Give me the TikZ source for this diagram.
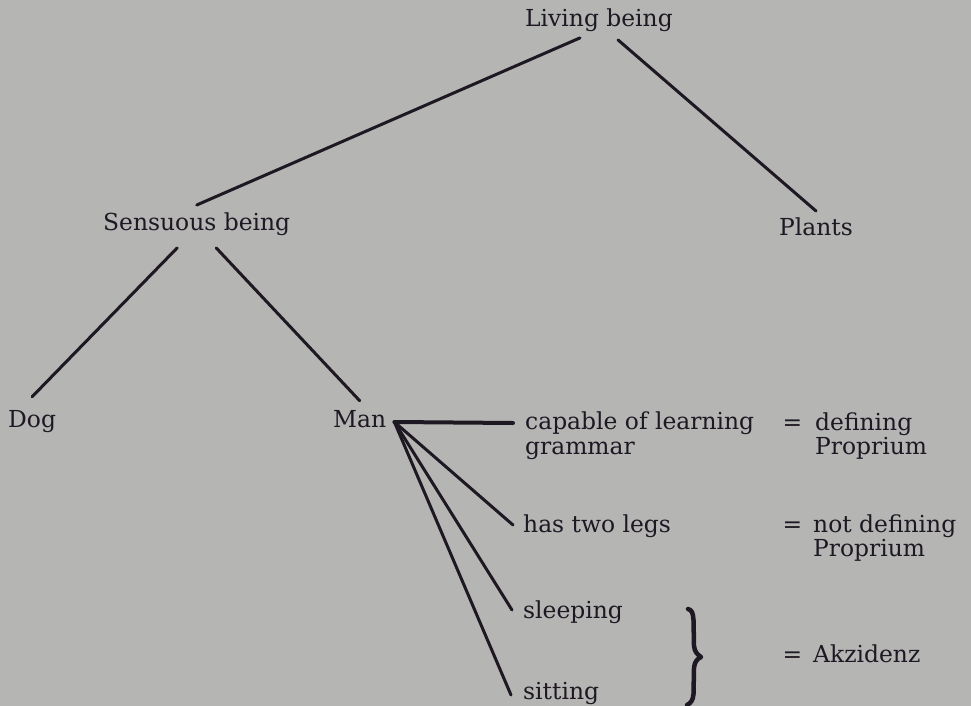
\documentclass[tikz,border=0pt]{standalone}
\usepackage{fontspec}
\setmainfont{DejaVu Serif}
\definecolor{paper}{RGB}{181,181,180}
\definecolor{ink}{RGB}{30,24,34}
\begin{document}
\begin{tikzpicture}[x=1pt,y=-1pt,
  every node/.style={inner sep=0pt, anchor=base west, text=ink,
    font=\fontsize{23.4}{24.5}\selectfont},
  term/.style={align=left},
  eqsign/.style={anchor=base},
  branch/.style={draw=ink, line width=3pt, line cap=round},
  mainbranch/.style={branch, line width=4pt},
  bracepath/.style={draw=ink, line width=4.5pt, line cap=round, line join=round}]

% paper
\fill[paper] (0,0) rectangle (971,706);
\useasboundingbox (0,0) rectangle (971,706);

% tree of concepts
\node (living) at (525,27)  {Living being};
\node (sens)   at (103,230) {Sensuous being};
\node (plants) at (779,235) {Plants};
\node (dog)    at (8,427)   {Dog};
\node (man)    at (333,427) {Man};

% properties of man (two-line nodes sit on the baseline of their last line)
\node[term] (cap)   at (525,454) {capable of learning\\grammar};
\node (legs)  at (523,532) {has two legs};
\node (sleep) at (523,618) {sleeping};
\node (sit)   at (523,699) {sitting};

% classification
\node[eqsign] (eqA) at (792.5,430) {=};
\node[term] (defp)  at (815,454.5) {defining\\Proprium};
\node[eqsign] (eqB) at (792.5,532) {=};
\node[term] (ndefp) at (813,556.5) {not defining\\Proprium};
\node[eqsign] (eqC) at (792.5,662) {=};
\node (akz) at (813,662) {Akzidenz};

% branches of the tree
\draw[branch] ([xshift=-19pt,yshift=-5.5pt]living.south) -- ([yshift=7pt]sens.north);
\draw[branch] ([xshift=19pt,yshift=-7.5pt]living.south) -- ([yshift=6pt]plants.north);
\draw[branch] ([xshift=-19.5pt,yshift=-12.5pt]sens.south) -- ([yshift=13pt]dog.north);
\draw[branch] ([xshift=19.5pt,yshift=-12.5pt]sens.south) -- ([yshift=9pt]man.north);

% fan of properties
\coordinate (hub) at ([xshift=8pt,yshift=5pt]man.base east);
\draw[mainbranch] (hub) -- ([xshift=-12pt,yshift=31pt]cap.base west);
\draw[branch] (hub) -- ([xshift=-10pt,yshift=7pt]legs.base west);
\draw[branch] (hub) -- ([xshift=-11pt,yshift=8pt]sleep.base west);
\draw[branch] (hub) -- ([xshift=-12pt,yshift=4pt]sit.base west);

% brace grouping the accidents
\draw[bracepath] (688,609) .. controls (692,610) and (693,613) .. (693.5,620)
  -- (694,646) .. controls (694.5,652) and (698,655) .. (701,657)
  .. controls (697,659) and (694.5,662) .. (694,668)
  -- (693.5,694) .. controls (693,700) and (691,703) .. (687,705);
\end{tikzpicture}
\end{document}
